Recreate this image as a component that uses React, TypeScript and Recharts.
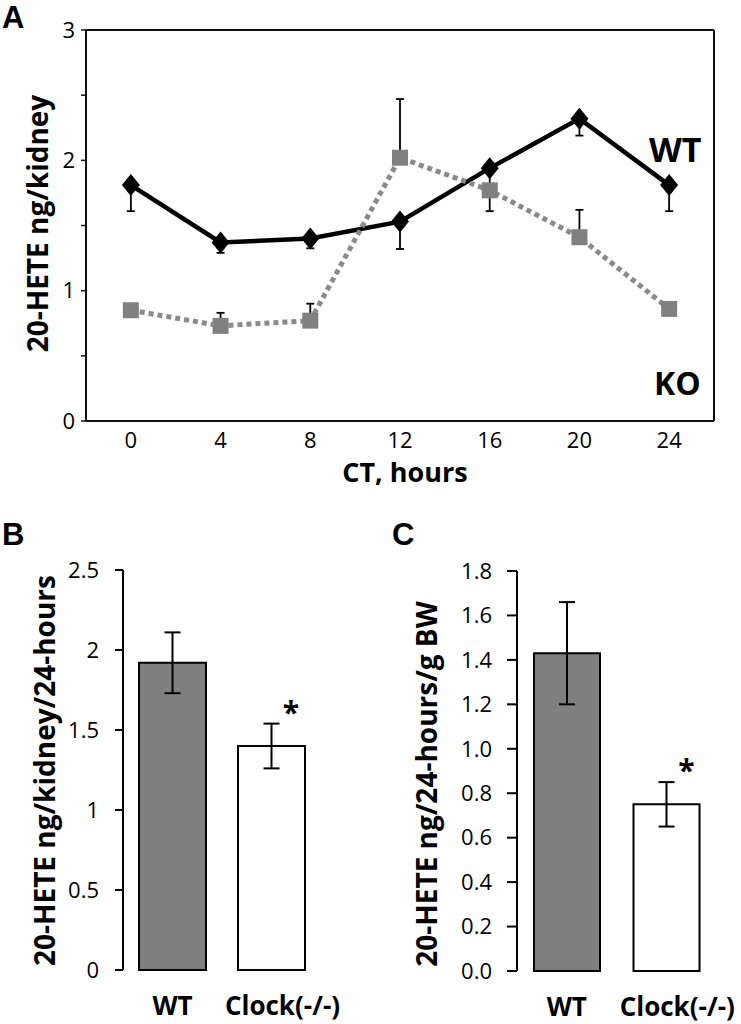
import React from 'react';
import {
  LineChart,
  Line,
  XAxis,
  YAxis,
  ErrorBar,
  ReferenceLine,
  BarChart,
  Bar,
  Cell,
  LabelList,
} from 'recharts';

// ---------- Panel A data ----------
const ctHours = [0, 4, 8, 12, 16, 20, 24];
const wtValues = [1.81, 1.37, 1.4, 1.53, 1.94, 2.32, 1.81];
const wtErrors = [0.2, 0.08, 0.075, 0.21, 0.33, 0.13, 0.2]; // drawn downward
const koValues = [0.85, 0.73, 0.77, 2.02, 1.77, 1.41, 0.86];
const koErrors = [0, 0.1, 0.13, 0.45, 0, 0.21, 0]; // drawn upward
const panelAXTicks = [0, 4, 8, 12, 16, 20, 24];
const panelAYTicks = [0, 0.5, 1, 1.5, 2, 2.5, 3];

// ---------- Panel B / C data ----------
const groups = ['WT', 'Clock(-/-)'];
const significance = ['', '*'];
const kidneyMeans = [1.92, 1.4];
const kidneyErrors = [0.19, 0.14];
const bwMeans = [1.43, 0.75];
const bwErrors = [0.23, 0.1];
const panelBTicks = [0, 0.5, 1, 1.5, 2, 2.5];
const panelCTicks = [0, 0.2, 0.4, 0.6, 0.8, 1.0, 1.2, 1.4, 1.6, 1.8];

const barFills = ['#7f7f7f', '#ffffff'];

const timeData = ctHours.map((h, i) => ({
  h,
  wt: wtValues[i],
  wtErr: [wtErrors[i], 0],
  ko: koValues[i],
  koErr: [0, koErrors[i]],
}));

const kidneyData = groups.map((g, i) => ({
  group: g,
  mean: kidneyMeans[i],
  err: kidneyErrors[i],
  sig: significance[i],
}));

const bwData = groups.map((g, i) => ({
  group: g,
  mean: bwMeans[i],
  err: bwErrors[i],
  sig: significance[i],
}));

const SANS = '"Open Sans", "DejaVu Sans", sans-serif';
const AXIS = '#111';

const Diamond = (props: any) => {
  const { cx, cy, index } = props;
  if (cx == null || cy == null) return <g key={`d-${index}`} />;
  return (
    <polygon
      key={`d-${index}`}
      points={`${cx},${cy - 11} ${cx + 9},${cy} ${cx},${cy + 11} ${cx - 9},${cy}`}
      fill="#000"
    />
  );
};

const Square = (props: any) => {
  const { cx, cy, index } = props;
  if (cx == null || cy == null) return <g key={`s-${index}`} />;
  return <rect key={`s-${index}`} x={cx - 8} y={cy - 8} width={16} height={16} fill="#808080" />;
};

const HourTick = (props: any) => {
  const { x, y, payload } = props;
  return (
    <text x={x} y={y + 27} textAnchor="middle" fontSize={22} fontFamily={SANS} fill="#000">
      {payload.value}
    </text>
  );
};

const GroupTick = (props: any) => {
  const { x, y, payload, index } = props;
  return (
    <text
      x={x + (index === 1 ? 11 : 0)}
      y={y + 45}
      textAnchor="middle"
      fontSize={26}
      fontWeight="bold"
      fontFamily={SANS}
      fill="#000"
    >
      {payload.value}
    </text>
  );
};

const Asterisk = (props: any) => {
  const vb = props.viewBox || props;
  const { x, y } = vb;
  if (props.value !== '*' || x == null || y == null) return null;
  return (
    <text x={x + 53} y={y - 23} textAnchor="middle" fontSize={30} fontWeight="bold" fontFamily={SANS} fill="#000">
      *
    </text>
  );
};

export default function App() {
  return (
    <div
      style={{
        position: 'absolute',
        left: 0,
        top: 0,
        width: 741,
        height: 1024,
        background: '#fff',
        overflow: 'hidden',
      }}
    >
      {/* Panel A */}
      <div style={{ position: 'absolute', left: 0, top: 0 }}>
        <LineChart width={741} height={500} data={timeData} margin={{ top: 30, right: 27, left: 0, bottom: 0 }}>
          <XAxis
            dataKey="h"
            type="number"
            domain={[-2, 26]}
            ticks={panelAXTicks}
            interval={0}
            tickLine={false}
            tickSize={0}
            tickMargin={0}
            height={79}
            axisLine={{ stroke: AXIS, strokeWidth: 2 }}
            tick={<HourTick />}
          />
          <YAxis
            type="number"
            domain={[0, 3]}
            ticks={panelAYTicks}
            interval={0}
            width={86}
            tickSize={5}
            tickMargin={6}
            axisLine={{ stroke: AXIS, strokeWidth: 2 }}
            tickLine={{ stroke: AXIS, strokeWidth: 1.5 }}
            tickFormatter={(v: number) => (Number.isInteger(v) ? String(v) : '')}
            tick={{ fontSize: 22, fill: '#000', fontFamily: SANS }}
          />
          <ReferenceLine y={3} stroke={AXIS} strokeWidth={2} />
          <ReferenceLine x={26} stroke={AXIS} strokeWidth={2} />
          <Line
            dataKey="wt"
            type="linear"
            stroke="#000"
            strokeWidth={4.5}
            dot={Diamond}
            activeDot={false}
            isAnimationActive={false}
          >
            <ErrorBar dataKey="wtErr" direction="y" width={4} strokeWidth={1.8} stroke="#000" />
          </Line>
          <Line
            dataKey="ko"
            type="linear"
            stroke="#8a8a8a"
            strokeWidth={5}
            strokeDasharray="5 4"
            dot={Square}
            activeDot={false}
            isAnimationActive={false}
          >
            <ErrorBar dataKey="koErr" direction="y" width={4} strokeWidth={1.8} stroke="#000" />
          </Line>
        </LineChart>
      </div>

      {/* Panel B */}
      <div style={{ position: 'absolute', left: 0, top: 540 }}>
        <BarChart
          width={370}
          height={484}
          data={kidneyData}
          margin={{ top: 30, right: 49, left: 0, bottom: 0 }}
          barCategoryGap={16}
        >
          <XAxis
            dataKey="group"
            axisLine={false}
            tickLine={false}
            tickSize={0}
            tickMargin={0}
            height={54}
            interval={0}
            tick={<GroupTick />}
          />
          <YAxis
            type="number"
            domain={[0, 2.5]}
            ticks={panelBTicks}
            interval={0}
            width={123}
            tickSize={8}
            tickMargin={16}
            axisLine={{ stroke: '#000', strokeWidth: 2 }}
            tickLine={{ stroke: '#000', strokeWidth: 2 }}
            tick={{ fontSize: 22, fill: '#000', fontFamily: SANS }}
          />
          <Bar dataKey="mean" stroke="#000" strokeWidth={2} isAnimationActive={false}>
            {kidneyData.map((d, i) => (
              <Cell key={d.group} fill={barFills[i]} />
            ))}
            <ErrorBar dataKey="err" direction="y" width={8} strokeWidth={2} stroke="#000" />
            <LabelList dataKey="sig" content={Asterisk} />
          </Bar>
        </BarChart>
      </div>

      {/* Panel C */}
      <div style={{ position: 'absolute', left: 370, top: 540 }}>
        <BarChart
          width={371}
          height={484}
          data={bwData}
          margin={{ top: 31, right: 25, left: 0, bottom: 0 }}
          barCategoryGap={17}
        >
          <XAxis
            dataKey="group"
            axisLine={false}
            tickLine={false}
            tickSize={0}
            tickMargin={0}
            height={53}
            interval={0}
            tick={<GroupTick />}
          />
          <YAxis
            type="number"
            domain={[0, 1.8]}
            ticks={panelCTicks}
            interval={0}
            width={147}
            tickSize={10}
            tickMargin={15}
            axisLine={{ stroke: '#000', strokeWidth: 2 }}
            tickLine={{ stroke: '#000', strokeWidth: 2 }}
            tickFormatter={(v: number) => v.toFixed(1)}
            tick={{ fontSize: 22, fill: '#000', fontFamily: SANS }}
          />
          <Bar dataKey="mean" stroke="#000" strokeWidth={2} isAnimationActive={false}>
            {bwData.map((d, i) => (
              <Cell key={d.group} fill={barFills[i]} />
            ))}
            <ErrorBar dataKey="err" direction="y" width={8} strokeWidth={2} stroke="#000" />
            <LabelList dataKey="sig" content={Asterisk} />
          </Bar>
        </BarChart>
      </div>

      {/* Text annotations */}
      <svg
        width={741}
        height={1024}
        style={{ position: 'absolute', left: 0, top: 0, pointerEvents: 'none' }}
      >
        <g fontFamily='"Liberation Sans", Arial, sans-serif' fontWeight="bold" fontSize={31} fill="#000">
          <text x={2} y={28}>A</text>
          <text x={2} y={545}>B</text>
          <text x={392} y={545}>C</text>
        </g>
        <g fontFamily={SANS} fontWeight="bold" fill="#000">
          <text transform="translate(48,223.5) rotate(-90)" textAnchor="middle" fontSize={28}>
            20-HETE ng/kidney
          </text>
          <text x={405} y={482} textAnchor="middle" fontSize={27}>
            CT, hours
          </text>
          <text x={649} y={162} fontSize={34}>
            WT
          </text>
          <text x={654} y={395} fontSize={32}>
            KO
          </text>
          <text transform="translate(55,770.5) rotate(-90)" textAnchor="middle" fontSize={28}>
            20-HETE ng/kidney/24-hours
          </text>
          <text transform="translate(437,784) rotate(-90)" textAnchor="middle" fontSize={28}>
            20-HETE ng/24-hours/g BW
          </text>
        </g>
      </svg>
    </div>
  );
}
